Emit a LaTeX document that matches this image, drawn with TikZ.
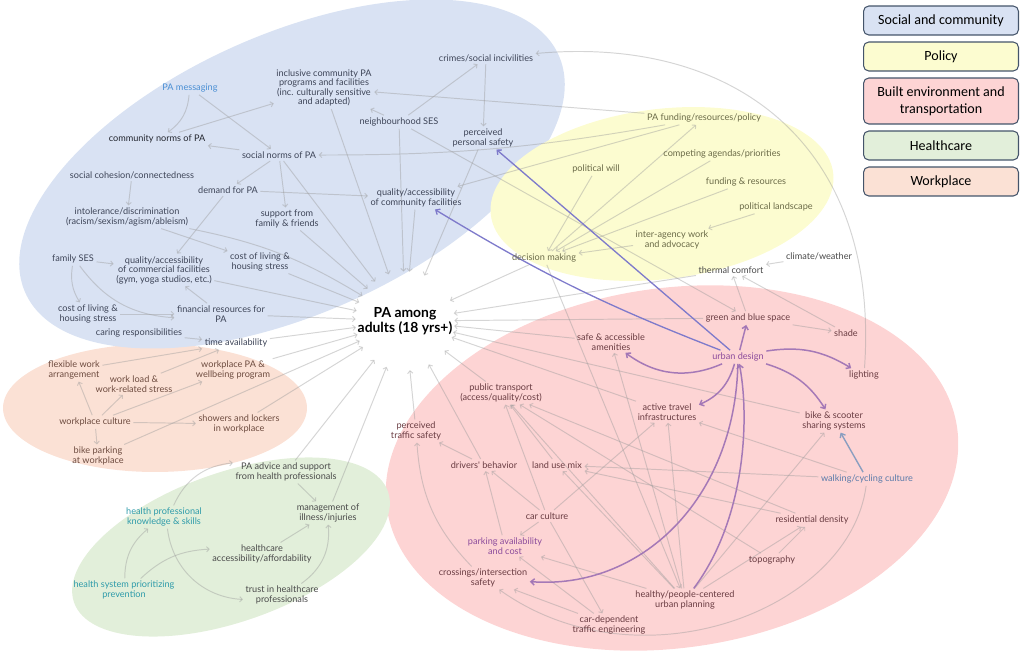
\documentclass[tikz,border=0pt]{standalone}
\usepackage{fontspec}
\newfontfamily\labelfont{Lato}
\newfontfamily\legendfont{Carlito}
\usetikzlibrary{arrows.meta}

% zone fills
\definecolor{socialfill}{HTML}{D9E2F3}
\definecolor{policyfill}{HTML}{FCFCD0}
\definecolor{builtfill}{HTML}{FDD4D4}
\definecolor{healthfill}{HTML}{E2EFDA}
\definecolor{workfill}{HTML}{FBE1D5}
\definecolor{legendline}{HTML}{44546A}
% label colours
\definecolor{socialtext}{HTML}{3E4558}
\definecolor{normtext}{HTML}{23262F}
\definecolor{msgtext}{HTML}{4A8FD4}
\definecolor{policytext}{HTML}{6B6B48}
\definecolor{builttext}{HTML}{6A3C42}
\definecolor{worktext}{HTML}{6E4C40}
\definecolor{healthtext}{HTML}{4A4A4A}
\definecolor{tealtext}{HTML}{2E9BAA}
\definecolor{designtext}{HTML}{8C4C9C}
\definecolor{walktext}{HTML}{5B7BAA}
% connector colours
\definecolor{linkgray}{HTML}{9A9A9A}
\definecolor{designline}{HTML}{9C70B4}
\definecolor{safetyline}{HTML}{7E7ACB}
\definecolor{walkline}{HTML}{8A9EC0}

\pgfdeclarelayer{zones}
\pgfdeclarelayer{links}
\pgfsetlayers{zones,links,main}

\tikzset{
  lbl/.style={font=\labelfont\fontsize{5.2}{5.4}\selectfont, align=center, inner sep=1.3pt},
  social/.style={lbl, text=socialtext},
  policy/.style={lbl, text=policytext},
  built/.style={lbl, text=builttext},
  work/.style={lbl, text=worktext},
  health/.style={lbl, text=healthtext},
  link/.style={draw=linkgray, draw opacity=0.42, line width=0.55pt, -{Straight Barb[length=1.5pt,width=3pt]}},
  designlink/.style={draw=designline, draw opacity=0.9, line width=0.85pt, -{Straight Barb[length=2pt,width=3.6pt]}},
  safetylink/.style={draw=safetyline, line width=0.75pt, -{Straight Barb[length=2pt,width=3.6pt]}},
  walklink/.style={draw=walkline, line width=0.8pt, -{Straight Barb[length=2pt,width=3.4pt]}},
  keybox/.style={draw=legendline, line width=0.6pt, rounded corners=3pt, minimum width=3.1cm, minimum height=0.58cm, font=\legendfont\fontsize{8}{9.6}\selectfont, align=center, inner sep=0pt}
}

\begin{document}
\begin{tikzpicture}[x=0.02cm,y=-0.02cm]
	\useasboundingbox (0,0) rectangle (1024,659);

	%Zones
	\begin{pgfonlayer}{zones}
		\fill[workfill] (155,408) ellipse [x radius=3.04cm, y radius=1.28cm];
		\fill[socialfill, rotate around={24:(292,174)}] (292,174) ellipse [x radius=5.84cm, y radius=2.8cm];
		\fill[policyfill, rotate around={7:(662,194)}] (662,194) ellipse [x radius=3.45cm, y radius=1.7cm];
		\fill[builtfill, rotate around={8:(672,468)}] (672,468) ellipse [x radius=5.76cm, y radius=3.6cm];
		\fill[healthfill, rotate around={19.5:(231,547)}] (231,547) ellipse [x radius=3.33cm, y radius=1.49cm];
	\end{pgfonlayer}

	%Outcome
	\node[circle, inner sep=0pt, align=center, font=\labelfont\bfseries\fontsize{7.9}{8.2}\selectfont] (pa) at (405,321) {PA among\\adults (18 yrs+)};

	%Social and community
	\node[lbl, text=msgtext] (msg) at (190,88) {PA messaging};
	\node[social] (incl) at (324,88) {inclusive community PA\\programs and facilities\\(inc. culturally sensitive\\and adapted)};
	\node[social] (crimes) at (486,58) {crimes/social incivilities};
	\node[social] (nses) at (399,122) {neighbourhood SES};
	\node[social] (safety) at (483,138) {perceived\\personal safety};
	\node[lbl, text=normtext] (cnorm) at (157,139) {community norms of PA};
	\node[social] (snorm) at (279,155) {social norms of PA};
	\node[social] (cohesion) at (132,175) {social cohesion/connectedness};
	\node[social] (demand) at (228,190) {demand for PA};
	\node[social] (intol) at (127,217) {intolerance/discrimination\\(racism/sexism/agism/ableism)};
	\node[social] (support) at (287,219) {support from\\family \& friends};
	\node[social] (qcom) at (416,198) {quality/accessibility\\of community facilities};
	\node[social] (fses) at (73,259) {family SES};
	\node[social] (qcomm) at (164,270) {quality/accessibility\\of commercial facilities\\(gym, yoga studios, etc.)};
	\node[social] (costA) at (260,262) {cost of living \&\\housing stress};
	\node[social] (costB) at (88,314) {cost of living \&\\housing stress};
	\node[social] (fin) at (221,314) {financial resources for\\PA};
	\node[social] (caring) at (139,333) {caring responsibilities};
	\node[social] (time) at (236,343) {time availability};

	%Policy
	\node[policy] (fundpol) at (704,118) {PA funding/resources/policy};
	\node[policy] (agendas) at (722,154) {competing agendas/priorities};
	\node[policy] (will) at (596,169) {political will};
	\node[policy] (fundres) at (746,182) {funding \& resources};
	\node[policy] (landscape) at (776,207) {political landscape};
	\node[policy] (interag) at (672,240) {inter-agency work\\and advocacy};
	\node[policy] (decision) at (544,258) {decision making};

	%Built environment and transportation
	\node[health] (climate) at (819,256) {climate/weather};
	\node[health] (thermal) at (731,270) {thermal comfort};
	\node[built] (greenblue) at (748,318) {green and blue space};
	\node[built] (shade) at (846,333) {shade};
	\node[lbl, text=designtext] (design) at (738,357) {urban design};
	\node[built] (lighting) at (864,375) {lighting};
	\node[built] (sharing) at (834,421) {bike \& scooter\\sharing systems};
	\node[lbl, text=walktext] (walking) at (867,479) {walking/cycling culture};
	\node[built] (density) at (812,520) {residential density};
	\node[built] (topo) at (772,560) {topography};
	\node[built] (planning) at (685,600) {healthy/people-centered\\urban planning};
	\node[built] (amenities) at (611,342) {safe \& accessible\\amenities};
	\node[built] (transport) at (501,393) {public transport\\(access/quality/cost)};
	\node[built] (infra) at (667,412) {active travel\\infrastructures};
	\node[built] (traffic) at (416,431) {perceived\\traffic safety};
	\node[built] (drivers) at (484,465) {drivers' behavior};
	\node[built] (landuse) at (557,465) {land use mix};
	\node[built] (carcult) at (547,516) {car culture};
	\node[lbl, text=designtext] (parking) at (505,546) {parking availability\\and cost};
	\node[built] (crossing) at (483,578) {crossings/intersection\\safety};
	\node[built] (cardep) at (609,625) {car-dependent\\traffic engineering};

	%Workplace
	\node[work] (flexible) at (74,370) {flexible work\\arrangement};
	\node[work] (workload) at (134,384) {work load \&\\work-related stress};
	\node[work] (program) at (233,370) {workplace PA \&\\wellbeing program};
	\node[work] (culture) at (95,422) {workplace culture};
	\node[work] (showers) at (239,424) {showers and lockers\\in workplace};
	\node[work] (bikepark) at (98,456) {bike parking\\at workplace};

	%Healthcare
	\node[health] (advice) at (286,472) {PA advice and support\\from health professionals};
	\node[lbl, text=tealtext] (skills) at (164,517) {health professional\\knowledge \& skills};
	\node[health] (illness) at (328,513) {management of\\illness/injuries};
	\node[health] (access) at (262,554) {healthcare\\accessibility/affordability};
	\node[lbl, text=tealtext] (prevention) at (124,590) {health system prioritizing\\prevention};
	\node[health] (trust) at (282,595) {trust in healthcare\\professionals};

	%Legend
	\node[keybox, fill=socialfill] (keysocial) at (941,20.5) {Social and community};
	\node[keybox, fill=policyfill] (keypolicy) at (941,56.5) {Policy};
	\node[keybox, fill=builtfill, minimum height=0.92cm] (keybuilt) at (941,101) {Built environment and\\transportation};
	\node[keybox, fill=healthfill] (keyhealth) at (941,145.5) {Healthcare};
	\node[keybox, fill=workfill] (keywork) at (941,181.5) {Workplace};

	\begin{pgfonlayer}{links}
		%social links
		\draw[link] (msg) to[bend left=25] (cnorm);
		\draw[link] (msg) -- (snorm);
		\draw[link] (cnorm) -- (incl);
		\draw[link] (snorm) -- (cnorm);
		\draw[link] (snorm) -- (demand);
		\draw[link] (snorm) -- (support);
		\draw[link] (cohesion) -- (intol);
		\draw[link] (nses) -- (incl);
		\draw[link] (nses) -- (crimes);
		\draw[link] (crimes) -- (safety);
		\draw[link] (demand) -- (qcom);
		\draw[link] (demand) -- (qcomm);
		\draw[link] (intol) -- (costA);
		\draw[link] (fses) -- (qcomm);
		\draw[link] (fses) to[bend right=20] (costB);
		\draw[link] (fses) to[bend right=25] (fin);
		\draw[link] (costB) -- (fin);
		\draw[link] (fin) -- (qcomm);
		\draw[link] (caring) -- (time);
		\draw[link] (fundpol) -- (incl);
		\draw[link] (fundpol) to[bend left=5] (snorm);
		\draw[link] (fundpol) -- (qcom);
		\draw[link] (nses) -- (greenblue);
		\draw[link] (lighting) .. controls (880,150) and (740,35) .. (crimes);

		%links into the outcome
		\draw[link] (snorm) -- (pa);
		\draw[link] (incl) -- (pa);
		\draw[link] (nses) -- (pa);
		\draw[link] (support) -- (pa);
		\draw[link] (costA) -- (pa);
		\draw[link] (intol) to[bend left=10] (pa);
		\draw[link] (qcomm) -- (pa);
		\draw[link] (fin) -- (pa);
		\draw[link] (time) -- (pa);
		\draw[link] (qcom) -- (pa);
		\draw[link] (safety) -- (pa);
		\draw[link] (decision) -- (pa);
		\draw[link] (thermal) -- (pa);
		\draw[link] (greenblue) -- (pa);
		\draw[link] (amenities) -- (pa);
		\draw[link] (sharing) -- (pa);
		\draw[link] (infra) -- (pa);
		\draw[link] (transport) -- (pa);
		\draw[link] (drivers) -- (pa);
		\draw[link] (traffic) -- (pa);
		\draw[link] (program) -- (pa);
		\draw[link] (showers) -- (pa);
		\draw[link] (bikepark) -- (pa);
		\draw[link] (advice) -- (pa);
		\draw[link] (illness) -- (pa);

		%policy links
		\draw[link] (will) -- (decision);
		\draw[link] (agendas) -- (decision);
		\draw[link] (fundres) -- (decision);
		\draw[link] (interag) -- (decision);
		\draw[link] (landscape) -- (interag);
		\draw[link] (decision) -- (fundpol);
		\draw[link] (decision) -- (planning);

		%built environment links
		\draw[link] (climate) -- (thermal);
		\draw[link] (greenblue) -- (thermal);
		\draw[link] (shade) -- (thermal);
		\draw[link] (greenblue) -- (shade);
		\draw[walklink] (walking) -- (sharing);
		\draw[link] (walking) -- (infra);
		\draw[link] (walking) -- (landuse);
		\draw[link] (walking) .. controls (850,610) and (640,690) .. (crossing);
		\draw[link] (density) -- (landuse);
		\draw[link] (density) -- (transport);
		\draw[link] (topo) -- (density);
		\draw[link] (topo) -- (transport);
		\draw[link] (planning) -- (density);
		\draw[link] (planning) -- (sharing);
		\draw[link] (planning) -- (infra);
		\draw[link] (planning) -- (amenities);
		\draw[link] (planning) -- (landuse);
		\draw[link] (planning) -- (parking);
		\draw[link] (planning) -- (transport);
		\draw[link] (carcult) -- (drivers);
		\draw[link] (carcult) -- (parking);
		\draw[link] (carcult) -- (cardep);
		\draw[link] (carcult) -- (infra);
		\draw[link] (carcult) -- (transport);
		\draw[link] (landuse) -- (transport);
		\draw[link] (parking) -- (drivers);
		\draw[link] (cardep) -- (crossing);
		\draw[link] (cardep) -- (parking);
		\draw[link] (crossing) to[bend left=20] (traffic);
		\draw[link] (drivers) -- (traffic);

		%urban design links
		\draw[designlink] (design) -- (greenblue);
		\draw[designlink] (design) to[bend left=20] (lighting);
		\draw[designlink] (design) to[bend left=20] (sharing);
		\draw[designlink] (design) to[bend left=25] (infra);
		\draw[designlink] (design) to[bend left=30] (amenities);
		\draw[designlink] (design) .. controls (735,500) and (640,590) .. (crossing);
		\draw[designlink] (planning) .. controls (745,520) and (750,420) .. (design);
		\draw[safetylink] (design) -- (safety);
		\draw[safetylink] (design) to[bend left=5] (qcom);

		%workplace links
		\draw[link] (flexible) -- (time);
		\draw[link] (workload) -- (time);
		\draw[link] (culture) -- (flexible);
		\draw[link] (culture) -- (workload);
		\draw[link] (culture) -- (program);
		\draw[link] (culture) -- (showers);
		\draw[link] (culture) -- (bikepark);

		%healthcare links
		\draw[link] (skills) to[bend left=30] (advice);
		\draw[link] (skills) to[bend right=40] (trust);
		\draw[link] (prevention) to[bend left=25] (skills);
		\draw[link] (prevention) to[bend left=20] (access);
		\draw[link] (advice) -- (illness);
		\draw[link] (access) -- (illness);
		\draw[link] (trust) to[bend right=30] (illness);
	\end{pgfonlayer}
\end{tikzpicture}
\end{document}
